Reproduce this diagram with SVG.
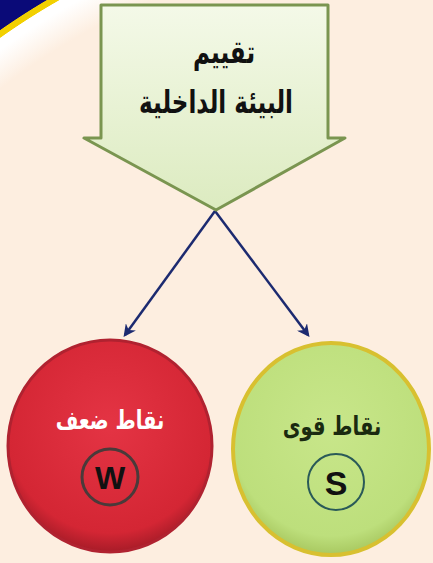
<svg xmlns="http://www.w3.org/2000/svg" width="433" height="563" viewBox="0 0 433 563">
<defs>
<linearGradient id="gArrow" x1="0" y1="0" x2="0" y2="1">
<stop offset="0" stop-color="#f4f9e8"/>
<stop offset="1" stop-color="#dcebc0"/>
</linearGradient>
<radialGradient id="gRed" cx="0.5" cy="0.4" r="0.6">
<stop offset="0" stop-color="#e43444"/>
<stop offset="0.85" stop-color="#d42634"/>
<stop offset="1" stop-color="#a81c28"/>
</radialGradient>
<radialGradient id="gGreen" cx="0.5" cy="0.4" r="0.6">
<stop offset="0" stop-color="#c8e68a"/>
<stop offset="0.85" stop-color="#bddf7c"/>
<stop offset="1" stop-color="#a8c860"/>
</radialGradient>
<radialGradient id="gCorner" cx="400" cy="600" r="705" gradientUnits="userSpaceOnUse">
<stop offset="0.92" stop-color="#fdeee0"/>
<stop offset="0.965" stop-color="#ffffff"/>
<stop offset="0.978" stop-color="#ffffff"/>
<stop offset="0.979" stop-color="#f2d000"/>
<stop offset="0.987" stop-color="#f2d000"/>
<stop offset="0.988" stop-color="#0a0a78"/>
<stop offset="1" stop-color="#0a0a78"/>
</radialGradient>
<marker id="ah" viewBox="0 0 10 10" refX="8" refY="5" markerWidth="5" markerHeight="5" orient="auto">
<path d="M0,0 L10,5 L0,10 L3,5 z" fill="#1c2a70"/>
</marker>
<style>
.ar{font-family:"DejaVu Sans","Noto Sans",sans-serif;font-weight:bold;text-anchor:middle}
.lt{font-family:"Liberation Sans",Arial,sans-serif;font-weight:bold;text-anchor:middle}
.con{stroke:#1c2a70;stroke-width:2.5;fill:none;marker-end:url(#ah)}
</style>
</defs>
<rect width="433" height="563" fill="#fdeee0"/>
<rect width="200" height="200" fill="url(#gCorner)"/>
<g id="connectors">
<line class="con" x1="215" y1="211" x2="125" y2="335"/>
<line class="con" x1="215" y1="211" x2="308" y2="335"/>
</g>
<g id="node-internal">
<path d="M101,5 H328 V138 H345 L216,210 L84,138 H101 Z" fill="url(#gArrow)" stroke="#7a9550" stroke-width="3" stroke-linejoin="round"/>
<text class="ar" transform="translate(224,63) scale(0.72,1)" font-size="32" fill="#111">تقييم</text>
<text class="ar" transform="translate(216,113) scale(0.72,1)" font-size="32" fill="#111">البيئة الداخلية</text>
</g>
<g id="node-weakness">
<ellipse cx="110" cy="446" rx="102" ry="106" fill="url(#gRed)" stroke="#b02230" stroke-width="3"/>
<text class="ar" transform="translate(110,429) scale(0.75,1)" font-size="26" fill="#ffffff">نقاط ضعف</text>
<circle cx="110" cy="477" r="28" fill="none" stroke="#4a3a3a" stroke-width="3"/>
<text class="lt" x="110" y="489" font-size="32" fill="#111">W</text>
</g>
<g id="node-strength">
<ellipse cx="331" cy="449" rx="98" ry="106" fill="url(#gGreen)" stroke="#d8c030" stroke-width="4"/>
<text class="ar" transform="translate(332,435) scale(0.75,1)" font-size="26" fill="#1a2a10">نقاط قوى</text>
<circle cx="336" cy="482" r="28" fill="none" stroke="#2a5a58" stroke-width="2"/>
<text class="lt" x="336" y="495" font-size="34" fill="#111">S</text>
</g>
</svg>
